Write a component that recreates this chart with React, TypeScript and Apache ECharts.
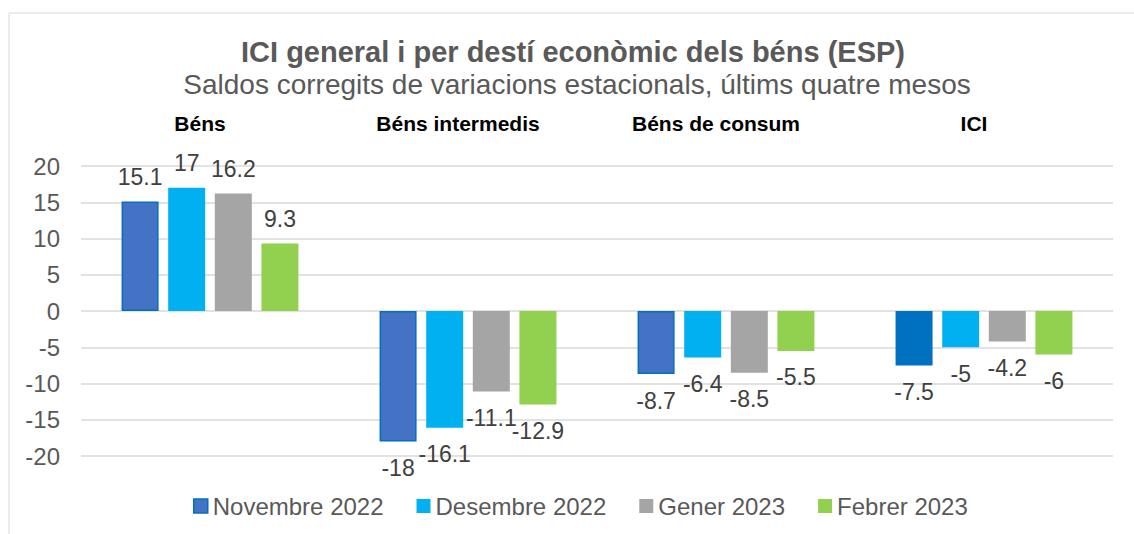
import { useEffect, useRef } from "react";
import * as echarts from "echarts";

const categories = ["Béns", "Béns intermedis", "Béns de consum", "ICI"];
const seriesNames = ["Novembre 2022", "Desembre 2022", "Gener 2023", "Febrer 2023"];
const nov2022 = [15.1, -18, -8.7, -7.5];
const des2022 = [17, -16.1, -6.4, -5];
const gen2023 = [16.2, -11.1, -8.5, -4.2];
const feb2023 = [9.3, -12.9, -5.5, -6];
const yMin = -20;
const yMax = 20;
const yStep = 5;

const titleText = "ICI general i per destí econòmic dels béns (ESP)";
const subtitleText = "Saldos corregits de variacions estacionals, últims quatre mesos";

const FONT = "'Liberation Sans', Arial, Helvetica, sans-serif";
const colors = ["#4472C4", "#00B0F0", "#A5A5A5", "#92D050"];

export default function App() {
  const ref = useRef<HTMLDivElement>(null);
  useEffect(() => {
    if (!ref.current) return;
    const chart = echarts.init(ref.current, null, { renderer: "svg" });
    const allSeries = [nov2022, des2022, gen2023, feb2023];
    const series = allSeries.map((vals, si) => ({
      name: seriesNames[si],
      type: "bar",
      barWidth: 37,
      barGap: "26%",
      itemStyle:
        si === 0
          ? { color: colors[0], borderColor: "#0070C0", borderWidth: 1.5 }
          : { color: colors[si] },
      data: vals.map((v, ci) => {
        const d: any = {
          value: v,
          label: {
            show: true,
            position: v < 0 ? "bottom" : "top",
            distance: v < 0 ? 15 : 13,
            fontSize: 23,
            fontFamily: FONT,
            color: "#404040",
          },
        };
        if (si === 0 && ci === 3) {
          d.itemStyle = { color: "#0070C0", borderColor: "#0070C0", borderWidth: 0 };
        }
        return d;
      }),
    }));

    chart.setOption({
      animation: false,
      backgroundColor: "#ffffff",
      textStyle: { fontFamily: FONT },
      title: [
        {
          text: titleText,
          left: 568,
          textAlign: "center",
          top: 32,
          textStyle: { fontSize: 29, fontWeight: "bold", color: "#595959", fontFamily: FONT },
        },
        {
          text: subtitleText,
          left: 572,
          textAlign: "center",
          top: 65,
          textStyle: { fontSize: 28, fontWeight: "normal", color: "#595959", fontFamily: FONT },
        },
      ],
      graphic: [
        {
          type: "rect",
          shape: { x: 9, y: 13, width: 1300, height: 700 },
          style: { fill: "none", stroke: "#D9D9D9", lineWidth: 1 },
          silent: true,
        },
      ],
      legend: {
        left: 188,
        top: 489,
        itemWidth: 14,
        itemHeight: 14,
        itemGap: 33,
        textStyle: { fontSize: 24, color: "#595959", fontFamily: FONT },
        data: seriesNames.map((n, i) => ({
          name: n,
          icon: "rect",
          itemStyle:
            i === 0
              ? { color: colors[0], borderColor: "#0070C0", borderWidth: 1.5 }
              : { color: colors[i] },
        })),
      },
      grid: { left: 81, right: 21, top: 166, bottom: 78, containLabel: false },
      xAxis: {
        type: "category",
        position: "top",
        data: categories,
        axisLine: { show: false },
        axisTick: { show: false },
        axisLabel: {
          margin: 32,
          fontSize: 21,
          fontWeight: "bold",
          color: "#000000",
          fontFamily: FONT,
          padding: [0, 20, 0, 0],
        },
      },
      yAxis: {
        type: "value",
        min: yMin,
        max: yMax,
        interval: yStep,
        axisLine: { show: false },
        axisTick: { show: false },
        splitLine: { lineStyle: { color: "#D9D9D9", width: 1.5 } },
        axisLabel: { fontSize: 24, color: "#595959", margin: 21, fontFamily: FONT },
      },
      series,
    });
    return () => chart.dispose();
  }, []);
  return (
    <div
      ref={ref}
      style={{ position: "fixed", left: 0, top: 0, width: 1134, height: 534 }}
    />
  );
}
